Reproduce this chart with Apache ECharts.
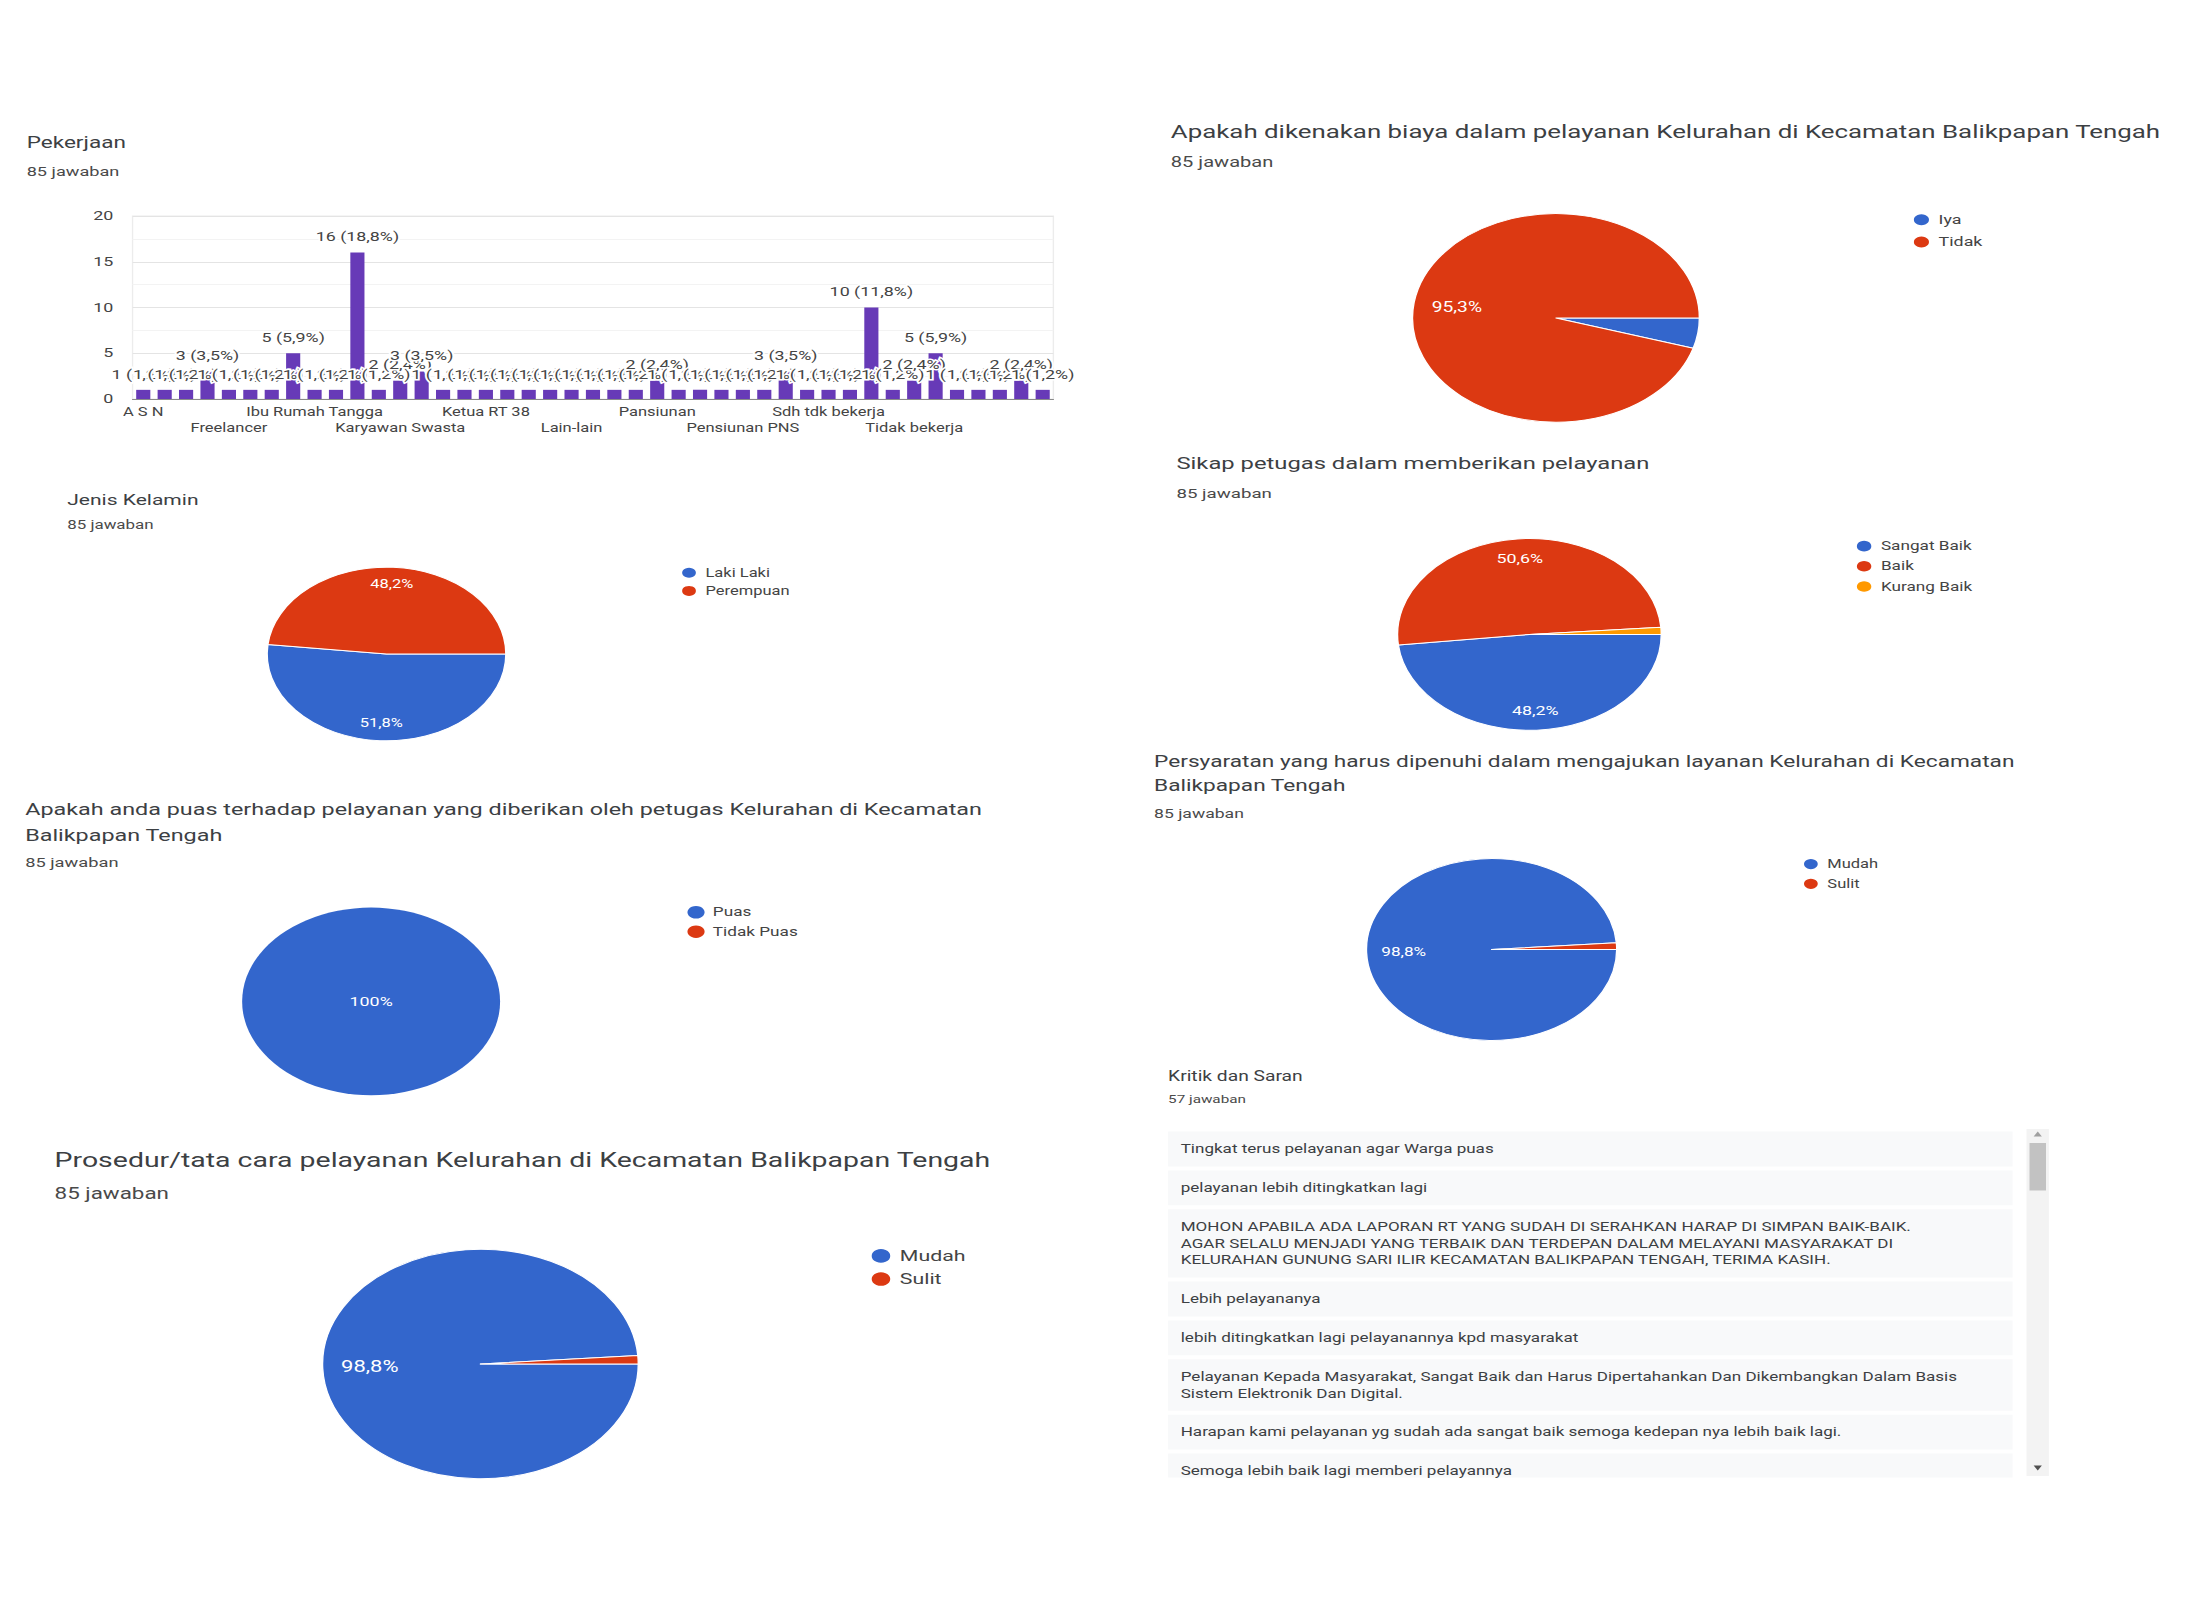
<!DOCTYPE html>
<html><head><meta charset="utf-8">
<script src="https://cdn.jsdelivr.net/npm/echarts@6/dist/echarts.min.js"></script>
<style>
html,body{margin:0;padding:0;background:#fff;overflow:hidden;width:2196px;height:1600px;}
#wrap{position:absolute;left:0;top:0;width:1597px;height:1600px;transform:scaleX(1.375);transform-origin:0 0;}
#chart{width:1597px;height:1600px;}
</style></head><body>
<div id="wrap"><div id="chart"></div></div>
<script>
// ---------------- DATA ----------------
const totalJawaban = 85;
const pekerjaanCategories = [
  'A S N','','','','Freelancer','','','','Ibu Rumah Tangga','','','',
  'Karyawan Swasta','','','','Ketua RT 38','','','','Lain-lain','','','',
  'Pansiunan','','','','Pensiunan PNS','','','','Sdh tdk bekerja','','','',
  'Tidak bekerja','','','','mahasiswa','',''
];
const pekerjaanValues = [
  1,1,1,3,1,1,1,5,1,1,16,1,2,3,1,
  1,1,1,1,1,1,1,1,1,2,1,1,1,1,
  1,3,1,1,1,10,1,2,5,1,1,1,2,1
];
const yTickMax = 20, yTickStep = 5;

const jkNames = ['Laki Laki','Perempuan'];               const jkValues = [44,41];
const biayaNames = ['Iya','Tidak'];                      const biayaValues = [4,81];
const sikapNames = ['Sangat Baik','Baik','Kurang Baik']; const sikapValues = [41,43,1];
const puasNames = ['Puas','Tidak Puas'];                 const puasValues = [85,0];
const syaratNames = ['Mudah','Sulit'];                   const syaratValues = [84,1];
const prosedurNames = ['Mudah','Sulit'];                 const prosedurValues = [84,1];

const kritikJumlah = 57;
const kritikSaran = [
  ['Tingkat terus pelayanan agar Warga puas'],
  ['pelayanan lebih ditingkatkan lagi'],
  ['MOHON APABILA ADA LAPORAN RT YANG SUDAH DI SERAHKAN HARAP DI SIMPAN BAIK-BAIK.',
   'AGAR SELALU MENJADI YANG TERBAIK DAN TERDEPAN DALAM MELAYANI MASYARAKAT DI',
   'KELURAHAN GUNUNG SARI ILIR KECAMATAN BALIKPAPAN TENGAH, TERIMA KASIH.'],
  ['Lebih pelayananya'],
  ['lebih ditingkatkan lagi pelayanannya kpd masyarakat'],
  ['Pelayanan Kepada Masyarakat, Sangat Baik dan Harus Dipertahankan Dan Dikembangkan Dalam Basis',
   'Sistem Elektronik Dan Digital.'],
  ['Harapan kami pelayanan yg sudah ada sangat baik semoga kedepan nya lebih baik lagi.'],
  ['Semoga lebih baik lagi memberi pelayannya']
];

// ---------------- LAYOUT / STYLE ----------------
const FONT = 'Roboto';
const PALETTE = ['#3366cc', '#dc3912', '#ff9900'];
const TITLE_C = '#3c4043', SUB_C = '#4a4a4a';
const fmtPct = v => (v / totalJawaban * 100).toFixed(1).replace('.', ',') + '%';
const jaw = totalJawaban + ' jawaban';

const texts = [
  ['Pekerjaan', 19.4, 143, 16.4, TITLE_C],
  [jaw, 19.4, 171, 13.2, SUB_C],
  ['Jenis Kelamin', 48.9, 500, 15.3, TITLE_C],
  [jaw, 48.9, 525, 12.3, SUB_C],
  ['Apakah anda puas terhadap pelayanan yang diberikan oleh petugas Kelurahan di Kecamatan', 18.3, 809.5, 17, TITLE_C],
  ['Balikpapan Tengah', 18.3, 834.7, 17, TITLE_C],
  [jaw, 18.3, 862.7, 13.3, SUB_C],
  ['Prosedur/tata cara pelayanan Kelurahan di Kecamatan Balikpapan Tengah', 39.7, 1159.6, 20.7, TITLE_C],
  [jaw, 39.7, 1193.2, 16.3, SUB_C],
  ['Apakah dikenakan biaya dalam pelayanan Kelurahan di Kecamatan Balikpapan Tengah', 851.5, 131.6, 18.8, TITLE_C],
  [jaw, 851.5, 162.5, 14.6, SUB_C],
  ['Sikap petugas dalam memberikan pelayanan', 855.6, 463.6, 17.3, TITLE_C],
  [jaw, 855.6, 493, 13.6, SUB_C],
  ['Persyaratan yang harus dipenuhi dalam mengajukan layanan Kelurahan di Kecamatan', 839.3, 761.9, 16.5, TITLE_C],
  ['Balikpapan Tengah', 839.3, 785.7, 16.5, TITLE_C],
  [jaw, 839.3, 813.7, 12.8, SUB_C],
  ['Kritik dan Saran', 849.5, 1075.6, 14, TITLE_C],
  [kritikJumlah + ' jawaban', 849.5, 1099.4, 11.1, SUB_C]
];

const pies = [
  {names: jkNames, values: jkValues, cx: 281.1, cy: 654, r: 86.8, lf: 0.77, fs: 12,
   lg: {x: 500.1, y: 572.8, gap: 18.2, fs: 12, d: 12}},
  {names: puasNames, values: puasValues, cx: 269.9, cy: 1001.4, r: 93.8, lf: 0, fs: 13, border: 0,
   lg: {x: 506.2, y: 913.1, gap: 21, fs: 12.5, d: 12.5}},
  {names: prosedurNames, values: prosedurValues, cx: 349.4, cy: 1364, r: 114.8, lf: 0.675, fs: 16,
   lg: {x: 639.7, y: 1256.2, gap: 23.8, fs: 15.5, d: 15.5}},
  {names: biayaNames, values: biayaValues, cx: 1131.6, cy: 317.9, r: 104.3, lf: 0.67, fs: 14,
   lg: {x: 1396.4, y: 219.9, gap: 22.4, fs: 13, d: 13}},
  {names: sikapNames, values: sikapValues, cx: 1112.3, cy: 634.4, r: 95.9, lf: 0.765, fs: 13,
   lg: {x: 1354.7, y: 546.2, gap: 20.3, fs: 12.5, d: 12.5}},
  {names: syaratNames, values: syaratValues, cx: 1084.8, cy: 949.5, r: 91, lf: 0.67, fs: 12.5,
   lg: {x: 1316, y: 864.1, gap: 19.8, fs: 12, d: 12}}
];

// list box layout
const LIST = {x: 849.5, w: 614.2, top: 1131.6, bottom: 1477.5, pad: 9, lh: 16.8, gap: 4, fs: 12.4};

// ---------------- BUILD ----------------
const graphics = [];
texts.forEach(t => graphics.push({
  type: 'text', x: t[1], y: t[2], silent: true,
  style: {text: t[0], fontSize: t[3], fontFamily: FONT, fill: t[4], verticalAlign: 'middle', align: 'left'}
}));

let yy = LIST.top;
kritikSaran.forEach(lines => {
  if (yy >= LIST.bottom) return;
  const h = LIST.pad * 2 + lines.length * LIST.lh;
  const hh = Math.min(h, LIST.bottom - yy);
  graphics.push({type: 'rect', silent: true, shape: {x: LIST.x, y: yy, width: LIST.w, height: hh},
    style: {fill: '#f8f9fa'}});
  lines.forEach((ln, i) => graphics.push({
    type: 'text', silent: true, x: LIST.x + 9.2, y: yy + LIST.pad + LIST.lh * (i + 0.5),
    style: {text: ln, fontSize: LIST.fs, fontFamily: FONT, fill: '#3c4043', verticalAlign: 'middle'}
  }));
  yy += h + LIST.gap;
});
// scrollbar
graphics.push({type: 'rect', silent: true, shape: {x: 1473.8, y: 1129, width: 16.3, height: 347}, style: {fill: '#f3f3f3'}});
graphics.push({type: 'rect', silent: true, shape: {x: 1476, y: 1143, width: 12, height: 47.5}, style: {fill: '#c2c2c2'}});
graphics.push({type: 'polygon', silent: true, shape: {points: [[1482, 1131.5], [1479, 1136.5], [1485, 1136.5]]}, style: {fill: '#a0a0a0'}});
graphics.push({type: 'polygon', silent: true, shape: {points: [[1482, 1470.5], [1479, 1465.5], [1485, 1465.5]]}, style: {fill: '#505050'}});

const series = [];
const legends = [];
series.push({
  type: 'bar', data: pekerjaanValues, barCategoryGap: '34%', silent: true,
  itemStyle: {color: '#673ab7'},
  label: {show: true, position: 'top', distance: 9, fontSize: 13, fontFamily: FONT, color: '#444',
    textBorderColor: '#fff', textBorderWidth: 3,
    formatter: p => p.value + ' (' + fmtPct(p.value) + ')'}
});
const pieData = p => p.names.map((n, i) => ({name: n, value: p.values[i], itemStyle: {color: PALETTE[i]}}));
pies.forEach(p => {
  series.push({
    type: 'pie', center: [p.cx, p.cy], radius: p.r, startAngle: 0, clockwise: true,
    data: pieData(p), silent: true, percentPrecision: 1,
    itemStyle: {borderColor: '#fff', borderWidth: p.border === 0 ? 0 : 1},
    label: {show: false}, labelLine: {show: false}, emphasis: {disabled: true}
  });
  const d = p.lg.d, ih = Math.max(d, p.lg.fs * 1.17);
  legends.push({
    data: p.names, orient: 'vertical', left: p.lg.x - d / 2, top: p.lg.y - ih / 2,
    icon: 'circle', itemWidth: d, itemHeight: d, itemGap: p.lg.gap - ih, padding: 0,
    selectedMode: false, textStyle: {fontSize: p.lg.fs, fontFamily: FONT, color: '#444', padding: [0, 0, 0, 1]}
  });
});
// label layers (Google places pie labels ~0.7 of the radius)
pies.forEach(p => {
  series.push({
    type: 'pie', center: [p.cx, p.cy], radius: p.lf ? p.r * 2 * p.lf : p.r, startAngle: 0, clockwise: true,
    data: p.names.map((n, i) => ({name: n, value: p.values[i], itemStyle: {color: 'rgba(0,0,0,0)'}})),
    silent: true, percentPrecision: 1, z: 5,
    itemStyle: {borderWidth: 0},
    label: {show: true, position: p.lf ? 'inside' : 'center', color: '#fff', fontSize: p.fs, fontFamily: FONT,
      formatter: q => q.percent < 5 ? '' : String(q.percent).replace('.', ',') + '%'},
    labelLine: {show: false}, emphasis: {disabled: true}
  });
});

const option = {
  animation: false,
  backgroundColor: '#fff',
  color: PALETTE,
  textStyle: {fontFamily: FONT},
  grid: {left: 96.4, top: 216, width: 669.7, height: 183, show: true, borderColor: '#ececec', borderWidth: 1},
  xAxis: {
    type: 'category', data: pekerjaanCategories,
    axisTick: {show: false}, axisLine: {lineStyle: {color: '#8a8a8a'}},
    axisLabel: {interval: 3, fontSize: 12, color: '#444', margin: 5, lineHeight: 16,
      formatter: (v, i) => ((i / 4) % 2 === 1 ? '\n' + v : v)}
  },
  yAxis: {
    type: 'value', min: 0, max: yTickMax, interval: yTickStep,
    axisLine: {show: false}, axisTick: {show: false},
    axisLabel: {fontSize: 13, color: '#444', margin: 14},
    splitLine: {lineStyle: {color: '#e4e4e4'}},
    minorTick: {show: false, splitNumber: 2},
    minorSplitLine: {show: true, lineStyle: {color: '#f3f3f3'}}
  },
  legend: legends,
  series,
  graphic: {elements: graphics}
};

const chart = echarts.init(document.getElementById('chart'), null, {renderer: 'svg', width: 1597, height: 1600});
chart.setOption(option);
</script>
</body></html>
